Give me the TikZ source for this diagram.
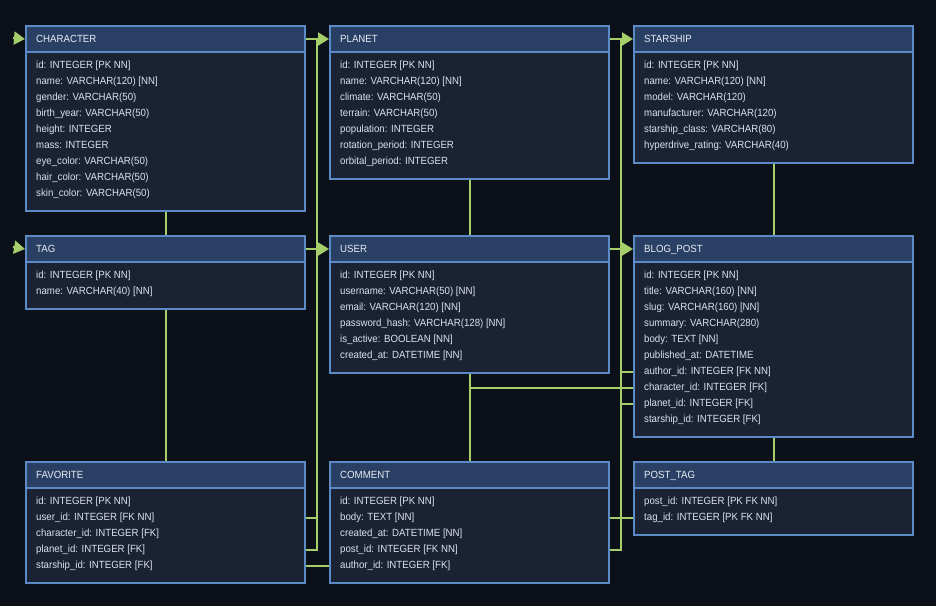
\documentclass[tikz,border=0pt]{standalone}
\usepackage{fontspec}
\setmainfont{Liberation Sans}[FakeStretch=0.93]
\usetikzlibrary{arrows.meta}
\definecolor{bgc}{HTML}{0C1019}
\definecolor{hdrc}{HTML}{2A3F64}
\definecolor{bodyc}{HTML}{1A2234}
\definecolor{brdc}{HTML}{5B8AC7}
\definecolor{linec}{HTML}{A6CE6A}
\definecolor{rowc}{HTML}{DCE2EC}
\definecolor{titc}{HTML}{E8EDF5}
\tikzset{
  hdrbox/.style={draw=brdc, fill=hdrc, line width=2pt, inner sep=0pt, minimum width=279pt, minimum height=26pt},
  bodybox/.style={draw=brdc, fill=bodyc, line width=2pt, inner sep=0pt, minimum width=279pt},
  hdrtext/.style={text=titc, inner sep=0pt, font=\fontsize{10.4}{12}\selectfont},
  rowtext/.style={text=rowc, inner sep=0pt, font=\fontsize{10.4}{12}\selectfont},
  conn/.style={draw=linec, line width=2pt},
  arr/.style={conn, -{Triangle[length=11pt,width=13pt]}}
}
\newcommand\erdtab[6]{%
  \node[bodybox, anchor=north west, minimum height=#5] (#1-b) at (#2,#3+26) {};
  \node[hdrbox, anchor=north west] (#1-h) at (#2,#3) {};
  \node[hdrtext, anchor=base west] (#1-t) at (#2+11,#3+17) {#4};
  \foreach \rowtxt [count=\i from 0] in {#6} {
    \node[rowtext, anchor=base west] (#1-r\i) at (#2+11,#3+26+17+16*\i) {\rowtxt};
  }
}
\begin{document}
\begin{tikzpicture}[x=1pt,y=-1pt]
\fill[bgc] (0,0) rectangle (936,606);
\useasboundingbox (0,0) rectangle (936,606);

\erdtab{character}{25}{25}{CHARACTER}{159pt}{id: INTEGER [PK NN], name: VARCHAR(120) [NN], gender: VARCHAR(50), birth\_year: VARCHAR(50), height: INTEGER, mass: INTEGER, eye\_color: VARCHAR(50), hair\_color: VARCHAR(50), skin\_color: VARCHAR(50)}
\erdtab{planet}{329}{25}{PLANET}{127pt}{id: INTEGER [PK NN], name: VARCHAR(120) [NN], climate: VARCHAR(50), terrain: VARCHAR(50), population: INTEGER, rotation\_period: INTEGER, orbital\_period: INTEGER}
\erdtab{starship}{633}{25}{STARSHIP}{111pt}{id: INTEGER [PK NN], name: VARCHAR(120) [NN], model: VARCHAR(120), manufacturer: VARCHAR(120), starship\_class: VARCHAR(80), hyperdrive\_rating: VARCHAR(40)}
\erdtab{tag}{25}{235}{TAG}{47pt}{id: INTEGER [PK NN], name: VARCHAR(40) [NN]}
\erdtab{user}{329}{235}{USER}{111pt}{id: INTEGER [PK NN], username: VARCHAR(50) [NN], email: VARCHAR(120) [NN], password\_hash: VARCHAR(128) [NN], is\_active: BOOLEAN [NN], created\_at: DATETIME [NN]}
\erdtab{blog}{633}{235}{BLOG\_POST}{175pt}{id: INTEGER [PK NN], title: VARCHAR(160) [NN], slug: VARCHAR(160) [NN], summary: VARCHAR(280), body: TEXT [NN], published\_at: DATETIME, author\_id: INTEGER [FK NN], character\_id: INTEGER [FK], planet\_id: INTEGER [FK], starship\_id: INTEGER [FK]}
\erdtab{favorite}{25}{461}{FAVORITE}{95pt}{id: INTEGER [PK NN], user\_id: INTEGER [FK NN], character\_id: INTEGER [FK], planet\_id: INTEGER [FK], starship\_id: INTEGER [FK]}
\erdtab{comment}{329}{461}{COMMENT}{95pt}{id: INTEGER [PK NN], body: TEXT [NN], created\_at: DATETIME [NN], post\_id: INTEGER [FK NN], author\_id: INTEGER [FK]}
\erdtab{posttag}{633}{461}{POST\_TAG}{47pt}{post\_id: INTEGER [PK FK NN], tag\_id: INTEGER [PK FK NN]}

% junction coordinates
\coordinate (e1) at (13,38);
\coordinate (e2) at (13,247);
\coordinate (j1) at (316.5,38);
\coordinate (j3) at (316.5,518);
\coordinate (j4) at (316.5,550);
\coordinate (m1) at (620.5,38);
\coordinate (m4) at (620.5,550);
\coordinate (y566) at (0,566);
\coordinate (y518) at (0,518);
\coordinate (y372) at (0,372);
\coordinate (y388) at (0,388);
\coordinate (y404) at (0,404);

% vertical links between stacked tables
\draw[conn] (character-b.south) -- (tag-h.north);
\draw[conn] (tag-b.south) -- (favorite-h.north);
\draw[conn] (planet-b.south) -- (user-h.north);
\draw[conn] (user-b.south) -- (comment-h.north);
\draw[conn] (starship-b.south) -- (blog-h.north);
\draw[conn] (blog-b.south) -- (posttag-h.north);

% gutter 1
\draw[conn] (favorite-b.east |- j4) -- (j4) -- (j1);
\draw[conn] (favorite-b.east |- j3) -- (j3);
\draw[conn] (favorite-b.east |- y566) -- (comment-b.west |- y566);
\draw[arr] (character-h.east) -- (planet-h.west);
\draw[arr] (tag-h.east) -- (user-h.west);

% gutter 2
\draw[conn] (comment-b.east |- m4) -- (m4) -- (m1);
\draw[conn] (comment-b.east |- y518) -- (posttag-b.west |- y518);
\draw[conn] (m1 |- y372) -- (blog-b.west |- y372);
\draw[conn] (user-b.south |- y388) -- (blog-b.west |- y388);
\draw[conn] (m1 |- y404) -- (blog-b.west |- y404);
\draw[arr] (planet-h.east) -- (starship-h.west);
\draw[arr] (user-h.east) -- (blog-h.west);

% incoming arrows on the left edge
\draw[arr] (e1) -- (character-h.west);
\draw[arr] (e2) -- (tag-h.west);
\end{tikzpicture}
\end{document}
